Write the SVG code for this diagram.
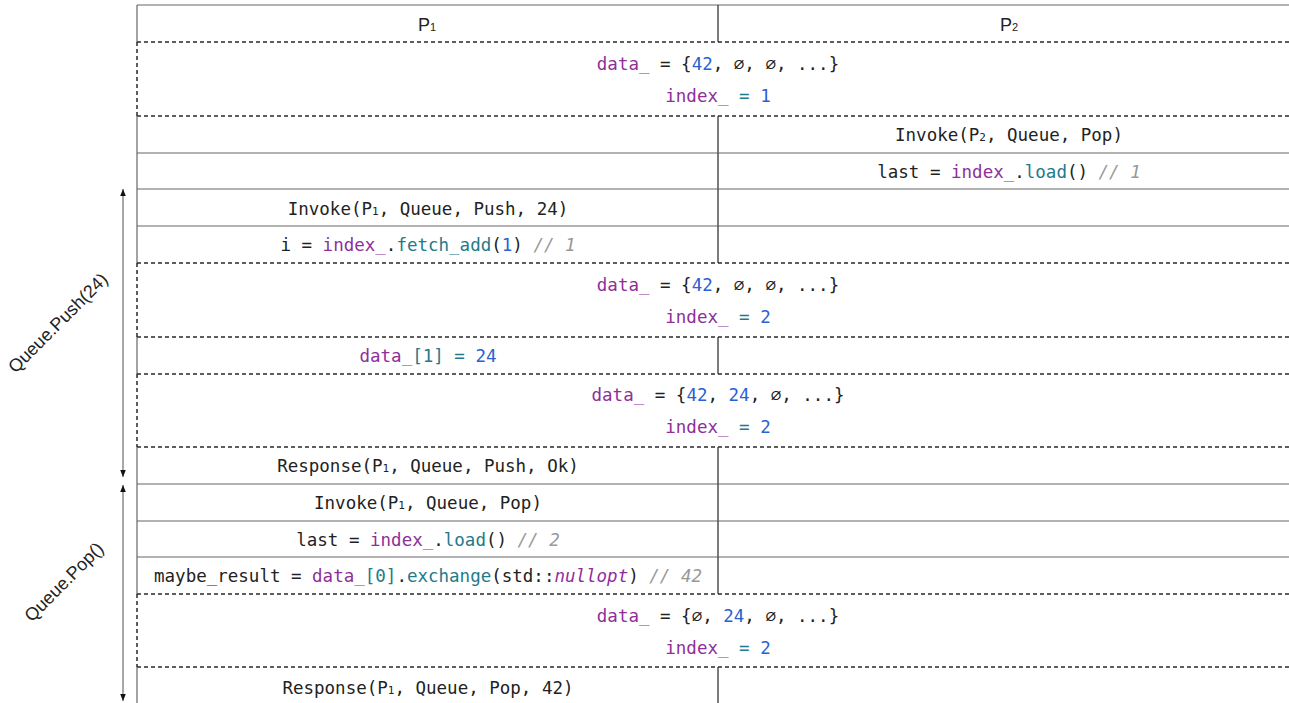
<svg xmlns="http://www.w3.org/2000/svg" width="1289" height="703" viewBox="0 0 1289 703">
<style>
.bg{fill:#ffffff}
.solid{stroke:#666666;stroke-width:1.2;fill:none}
.div{stroke:#444444;stroke-width:1.4;fill:none}
.dash{stroke:#2a2a2a;stroke-width:1.5;stroke-dasharray:4 3;fill:none}
.code{font-family:"DejaVu Sans Mono",monospace;font-size:17.5px;fill:#222222;text-anchor:middle}
.hdr{font-family:"Liberation Sans",Arial,sans-serif;font-size:18px;fill:#222222;text-anchor:middle}
.lbl{font-family:"Liberation Sans",Arial,sans-serif;font-size:18px;fill:#222222;text-anchor:middle}
.v{fill:#8e2f9a}
.n{fill:#2a5fd6}
.f{fill:#237a8a}
.c{fill:#999999;font-style:italic}
.sub{font-size:11px}
.it{font-style:italic}
.arr{stroke:#8a8a8a;stroke-width:1.5;fill:none}
</style>
<defs>
<marker id="ah" viewBox="0 0 10 10" refX="10" refY="5" markerWidth="7" markerHeight="7" orient="auto-start-reverse" markerUnits="userSpaceOnUse">
<path d="M0,1 L10,5 L0,9 Z" fill="#111111"/>
</marker>
</defs>
<rect class="bg" x="0" y="0" width="1289" height="703"/>

<g id="header">
<line class="solid" x1="137" y1="5" x2="1300" y2="5"/>
<line class="solid" x1="137" y1="5" x2="137" y2="42"/>
<line class="div" x1="718" y1="5" x2="718" y2="42"/>
<text class="hdr" x="427" y="31">P<tspan class="sub">1</tspan></text>
<text class="hdr" x="1009" y="31">P<tspan class="sub">2</tspan></text>
</g>

<g id="state1">
<line class="dash" x1="137" y1="42" x2="1300" y2="42"/>
<line class="dash" x1="137" y1="42" x2="137" y2="116"/>
<text class="code" x="718" y="70"><tspan class="v">data_</tspan> = {<tspan class="n">42</tspan>, ∅, ∅, ...}</text>
<text class="code" x="718" y="102"><tspan class="v">index_</tspan> <tspan class="f">=</tspan> <tspan class="n">1</tspan></text>
</g>

<g id="row-p2-invoke">
<line class="dash" x1="137" y1="116" x2="1300" y2="116"/>
<line class="solid" x1="137" y1="116" x2="137" y2="153"/>
<line class="div" x1="718" y1="116" x2="718" y2="153"/>
<text class="code" x="1009" y="141">Invoke(P<tspan class="sub">2</tspan>, Queue, Pop)</text>
</g>

<g id="row-p2-load">
<line class="solid" x1="137" y1="153" x2="1300" y2="153"/>
<line class="solid" x1="137" y1="153" x2="137" y2="189"/>
<line class="div" x1="718" y1="153" x2="718" y2="189"/>
<text class="code" x="1009" y="178">last = <tspan class="v">index_</tspan>.<tspan class="f">load</tspan>() <tspan class="c">// 1</tspan></text>
</g>

<g id="row-p1-invoke-push">
<line class="solid" x1="137" y1="189" x2="1300" y2="189"/>
<line class="solid" x1="137" y1="189" x2="137" y2="226"/>
<line class="div" x1="718" y1="189" x2="718" y2="226"/>
<text class="code" x="428" y="215">Invoke(P<tspan class="sub">1</tspan>, Queue, Push, 24)</text>
</g>

<g id="row-p1-fetch-add">
<line class="solid" x1="137" y1="226" x2="1300" y2="226"/>
<line class="solid" x1="137" y1="226" x2="137" y2="263"/>
<line class="div" x1="718" y1="226" x2="718" y2="263"/>
<text class="code" x="428" y="251">i = <tspan class="v">index_</tspan>.<tspan class="f">fetch_add</tspan>(<tspan class="n">1</tspan>) <tspan class="c">// 1</tspan></text>
</g>

<g id="state2">
<line class="dash" x1="137" y1="263" x2="1300" y2="263"/>
<line class="dash" x1="137" y1="263" x2="137" y2="337"/>
<text class="code" x="718" y="291"><tspan class="v">data_</tspan> = {<tspan class="n">42</tspan>, ∅, ∅, ...}</text>
<text class="code" x="718" y="323"><tspan class="v">index_</tspan> <tspan class="f">=</tspan> <tspan class="n">2</tspan></text>
</g>

<g id="row-p1-store">
<line class="dash" x1="137" y1="337" x2="1300" y2="337"/>
<line class="solid" x1="137" y1="337" x2="137" y2="374"/>
<line class="div" x1="718" y1="337" x2="718" y2="374"/>
<text class="code" x="428" y="362"><tspan class="v">data_</tspan><tspan class="f">[1]</tspan> <tspan class="f">=</tspan> <tspan class="n">24</tspan></text>
</g>

<g id="state3">
<line class="dash" x1="137" y1="374" x2="1300" y2="374"/>
<line class="dash" x1="137" y1="374" x2="137" y2="447"/>
<text class="code" x="718" y="401"><tspan class="v">data_</tspan> = {<tspan class="n">42</tspan>, <tspan class="n">24</tspan>, ∅, ...}</text>
<text class="code" x="718" y="433"><tspan class="v">index_</tspan> <tspan class="f">=</tspan> <tspan class="n">2</tspan></text>
</g>

<g id="row-p1-response-push">
<line class="dash" x1="137" y1="447" x2="1300" y2="447"/>
<line class="solid" x1="137" y1="447" x2="137" y2="484"/>
<line class="div" x1="718" y1="447" x2="718" y2="484"/>
<text class="code" x="428" y="472">Response(P<tspan class="sub">1</tspan>, Queue, Push, Ok)</text>
</g>

<g id="row-p1-invoke-pop">
<line class="solid" x1="137" y1="484" x2="1300" y2="484"/>
<line class="solid" x1="137" y1="484" x2="137" y2="521"/>
<line class="div" x1="718" y1="484" x2="718" y2="521"/>
<text class="code" x="428" y="509">Invoke(P<tspan class="sub">1</tspan>, Queue, Pop)</text>
</g>

<g id="row-p1-load">
<line class="solid" x1="137" y1="521" x2="1300" y2="521"/>
<line class="solid" x1="137" y1="521" x2="137" y2="557"/>
<line class="div" x1="718" y1="521" x2="718" y2="557"/>
<text class="code" x="428" y="546">last = <tspan class="v">index_</tspan>.<tspan class="f">load</tspan>() <tspan class="c">// 2</tspan></text>
</g>

<g id="row-p1-exchange">
<line class="solid" x1="137" y1="557" x2="1300" y2="557"/>
<line class="solid" x1="137" y1="557" x2="137" y2="594"/>
<line class="div" x1="718" y1="557" x2="718" y2="594"/>
<text class="code" x="428" y="582">maybe_result = <tspan class="v">data_</tspan><tspan class="f">[0]</tspan>.<tspan class="f">exchange</tspan>(std::<tspan class="v it">nullopt</tspan>) <tspan class="c">// 42</tspan></text>
</g>

<g id="state4">
<line class="dash" x1="137" y1="594" x2="1300" y2="594"/>
<line class="dash" x1="137" y1="594" x2="137" y2="667"/>
<text class="code" x="718" y="622"><tspan class="v">data_</tspan> = {∅, <tspan class="n">24</tspan>, ∅, ...}</text>
<text class="code" x="718" y="654"><tspan class="v">index_</tspan> <tspan class="f">=</tspan> <tspan class="n">2</tspan></text>
</g>

<g id="row-p1-response-pop">
<line class="dash" x1="137" y1="667" x2="1300" y2="667"/>
<line class="solid" x1="137" y1="667" x2="137" y2="703"/>
<line class="div" x1="718" y1="667" x2="718" y2="703"/>
<text class="code" x="428" y="694">Response(P<tspan class="sub">1</tspan>, Queue, Pop, 42)</text>
</g>

<g id="connectors">
<line class="arr" x1="123" y1="189" x2="123" y2="477" marker-start="url(#ah)" marker-end="url(#ah)"/>
<line class="arr" x1="123" y1="485" x2="123" y2="701" marker-start="url(#ah)" marker-end="url(#ah)"/>
</g>

<g id="span-labels">
<text class="lbl" transform="translate(58,323) rotate(-45)" y="6">Queue.Push(24)</text>
<text class="lbl" transform="translate(64,582) rotate(-45)" y="6">Queue.Pop()</text>
</g>
</svg>
